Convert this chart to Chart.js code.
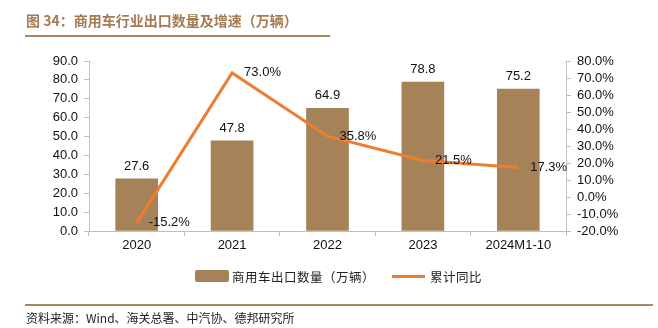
<!DOCTYPE html>
<html>
<head>
<meta charset="utf-8">
<script src="https://cdn.jsdelivr.net/npm/chart.js@4"></script>
<style>
  body{margin:0;background:#fff;}
  #wrap{position:relative;width:658px;height:328px;overflow:hidden;font-family:"Noto Sans CJK SC",sans-serif;}
  #cv{position:absolute;left:0;top:0;}
  .title{position:absolute;left:26px;top:10px;font-size:14px;font-weight:bold;color:#A57A52;}
  .hr{position:absolute;left:25px;height:2px;background:#A88662;}
  .src{position:absolute;left:26px;top:309px;font-size:12px;color:#222;}
  .lg{position:absolute;top:267px;font-size:12.5px;color:#222;letter-spacing:0.5px;}
  .box{position:absolute;top:270px;left:195px;width:34px;height:12px;background:#A68259;border-radius:2px;}
  .ln{position:absolute;top:275px;left:392px;width:33px;height:3px;background:#ED7D31;}
</style>
</head>
<body>
<div id="wrap">
  <canvas id="cv" width="658" height="328"></canvas>
  <div class="title">图 34：商用车行业出口数量及增速（万辆）</div>
  <div class="hr" style="top:35px;width:305px;"></div>
  <div class="hr" style="top:304px;width:628px;"></div>
  <div class="box"></div>
  <div class="lg" style="left:232px;">商用车出口数量（万辆）</div>
  <div class="ln"></div>
  <div class="lg" style="left:430px;">累计同比</div>
  <div class="src">资料来源：Wind、海关总署、中汽协、德邦研究所</div>
</div>
<script>
const categories=['2020','2021','2022','2023','2024M1-10'];
const exportVolume=[27.6,47.8,64.9,78.8,75.2];
const yoyGrowth=[-15.2,73.0,35.8,21.5,17.3];

const valueLabels={
    id:'valueLabels',
    afterDatasetsDraw(chart){
        const ctx=chart.ctx;
        ctx.save();
        ctx.font='13px "Liberation Sans", Arial, sans-serif';
        ctx.fillStyle='#111';
        // bar labels
        chart.getDatasetMeta(0).data.forEach((bar,i)=>{
            ctx.textAlign='center';
            ctx.textBaseline='bottom';
            ctx.fillText(exportVolume[i].toFixed(1),bar.x,bar.y-6);
        });
        // line labels
        chart.getDatasetMeta(1).data.forEach((pt,i)=>{
            ctx.textAlign='left';
            ctx.textBaseline='middle';
            ctx.fillText(yoyGrowth[i].toFixed(1)+'%',pt.x+12,pt.y);
        });
        ctx.restore();
    }
};

const tickFont={family:'"Liberation Sans", Arial, sans-serif',size:13};

new Chart(document.getElementById('cv'),{
    data:{
        labels:categories,
        datasets:[{
            type:'bar',
            label:'商用车出口数量（万辆）',
            data:exportVolume,
            backgroundColor:'#A68259',
            barThickness:42,
            yAxisID:'y',
            order:2
        },{
            type:'line',
            label:'累计同比',
            data:yoyGrowth,
            borderColor:'#ED7D31',
            borderWidth:3,
            pointRadius:0,
            tension:0,
            yAxisID:'y1',
            order:1
        }]
    },
    options:{
        responsive:false,
        animation:false,
        layout:{padding:{top:61,left:0,right:0,bottom:0}},
        plugins:{legend:{display:false},tooltip:{enabled:false}},
        scales:{
            x:{
                offset:true,
                grid:{offset:true,drawOnChartArea:false,color:'#BFBFBF',tickLength:5},
                border:{color:'#BFBFBF'},
                ticks:{color:'#111',font:tickFont,padding:2},
                afterFit(s){s.height=97;}
            },
            y:{
                position:'left',
                min:0,max:90,
                ticks:{stepSize:10,autoSkip:false,color:'#111',font:tickFont,padding:6,callback:v=>v.toFixed(1)},
                grid:{drawOnChartArea:false,color:'#BFBFBF',tickLength:5},
                border:{color:'#BFBFBF'},
                afterFit(s){s.width=89;}
            },
            y1:{
                position:'right',
                min:-20,max:80,
                ticks:{stepSize:10,autoSkip:false,color:'#111',font:tickFont,padding:6,callback:v=>v.toFixed(1)+'%'},
                grid:{drawOnChartArea:false,color:'#BFBFBF',tickLength:5},
                border:{color:'#BFBFBF'},
                afterFit(s){s.width=92;}
            }
        }
    },
    plugins:[valueLabels]
});
</script>
</body>
</html>
